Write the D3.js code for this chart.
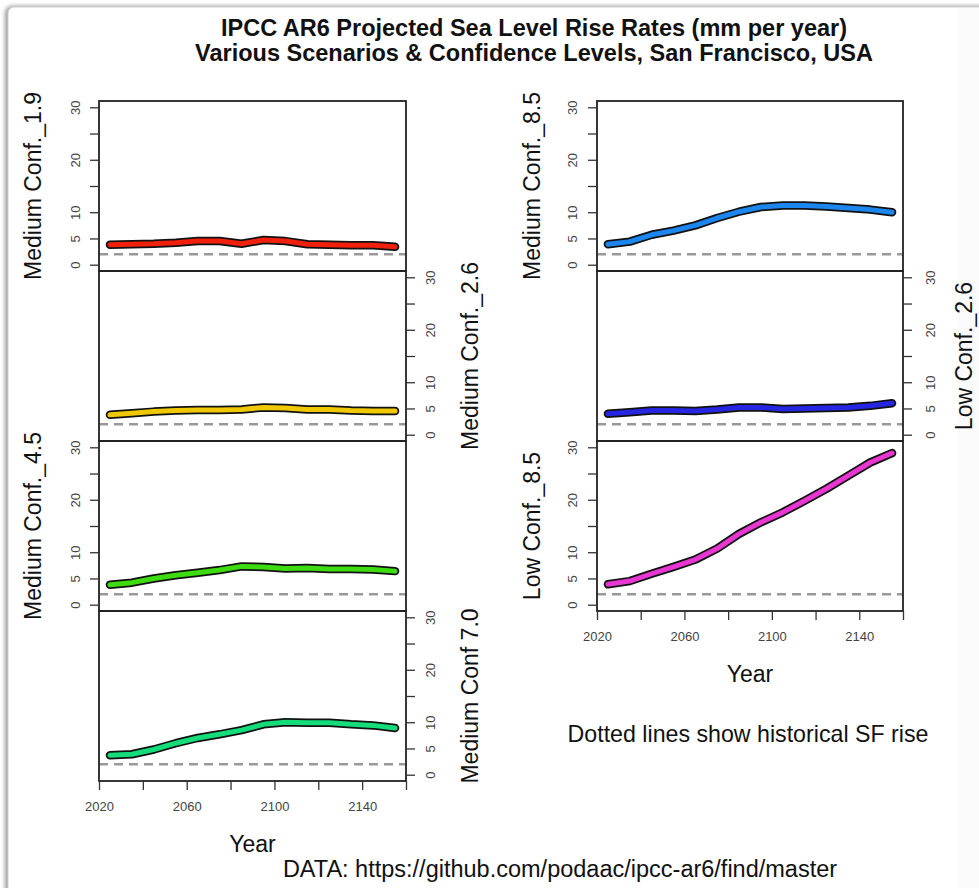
<!DOCTYPE html>
<html>
<head>
<meta charset="utf-8">
<script src="https://cdn.jsdelivr.net/npm/d3@7"></script>
<style>
  html, body { margin: 0; padding: 0; background: #fff; }
  svg { display: block; font-family: "Liberation Sans", Arial, Helvetica, sans-serif; }
</style>
</head>
<body>
<svg id="chart" width="979" height="888"></svg>
<script>
// ---- data (mm per year) ----
const years = [2025, 2035, 2045, 2055, 2065, 2075, 2085, 2095, 2105, 2115, 2125, 2135, 2145, 2155];
const medConf19 = [3.8, 3.9, 4.0, 4.2, 4.5, 4.5, 4.0, 4.7, 4.5, 3.9, 3.8, 3.7, 3.7, 3.4];
const medConf26 = [3.8, 4.1, 4.4, 4.6, 4.7, 4.7, 4.8, 5.2, 5.1, 4.8, 4.8, 4.6, 4.5, 4.5];
const medConf45 = [3.8, 4.2, 5.0, 5.6, 6.1, 6.6, 7.3, 7.2, 6.9, 7.0, 6.8, 6.8, 6.7, 6.4];
const medConf70 = [3.7, 3.9, 4.8, 6.0, 7.0, 7.7, 8.5, 9.6, 10.0, 9.9, 9.9, 9.6, 9.4, 8.9];
const medConf85 = [3.9, 4.4, 5.7, 6.5, 7.5, 8.9, 10.1, 11.0, 11.3, 11.3, 11.1, 10.8, 10.5, 10.0];
const lowConf26 = [4.0, 4.3, 4.6, 4.6, 4.5, 4.8, 5.2, 5.2, 4.9, 5.0, 5.1, 5.2, 5.5, 6.0];
const lowConf85 = [3.9, 4.5, 5.9, 7.2, 8.6, 10.7, 13.5, 15.7, 17.6, 19.8, 22.1, 24.6, 27.1, 28.9];
const historicalRise = 2.0;

const seriesLabels = ["Medium Conf._1.9", "Medium Conf._2.6", "Medium Conf._4.5", "Medium Conf 7.0",
                      "Medium Conf._8.5", "Low Conf._2.6", "Low Conf._8.5"];
const seriesColors = ["#f0200c", "#f0c800", "#3cdc10", "#14dc78", "#1c86ee", "#2626e2", "#e836d2"];

const yTicks = [0, 5, 10, 15, 20, 25, 30];
const yTickLabels = [0, 5, 10, 20, 30];
const xTicks = [2020, 2040, 2060, 2080, 2100, 2120, 2140, 2160];
const xTickLabels = [2020, 2060, 2100, 2140];

const titleLines = ["IPCC AR6 Projected Sea Level Rise Rates (mm per year)",
                    "Various Scenarios & Confidence Levels, San Francisco, USA"];
const noteText = "Dotted lines show historical SF rise";
const sourceText = "DATA: https://github.com/podaac/ipcc-ar6/find/master";

// ---- layout ----
const allSeries = [medConf19, medConf26, medConf45, medConf70, medConf85, lowConf26, lowConf85];
const panels = allSeries.map((vals, i) => ({
  values: vals,
  label: seriesLabels[i],
  color: seriesColors[i],
  col: i < 4 ? 0 : 1,
  row: i < 4 ? i : i - 4,
  side: ((i < 4 ? i : i - 4) % 2 === 0) ? "left" : "right",
  xAxis: i === 3 || i === 6
}));

const colX = [[99, 406], [597, 903]];
const rowTop = 101, rowH = 170;

const svg = d3.select("#chart");

// frame (screenshot window)
const defs = svg.append("defs");
const f = defs.append("filter").attr("id", "blur").attr("x", "-20%").attr("y", "-20%").attr("width", "140%").attr("height", "140%");
f.append("feGaussianBlur").attr("stdDeviation", 2.2);
svg.append("rect").attr("x", 5).attr("y", 6).attr("width", 1000).attr("height", 920).attr("rx", 7)
  .attr("fill", "#9a9a9a").attr("filter", "url(#blur)");
svg.append("rect").attr("x", 8).attr("y", 7).attr("width", 1000).attr("height", 920).attr("rx", 6)
  .attr("fill", "#fff").attr("stroke", "#d2d2d2").attr("stroke-width", 1);
svg.append("rect").attr("x", 958).attr("y", 8).attr("width", 21).attr("height", 880).attr("fill", "#fafafa");

// title
svg.append("g").selectAll("text").data(titleLines).join("text")
  .attr("x", 534).attr("y", (d, i) => 36 + i * 25)
  .attr("text-anchor", "middle").attr("font-weight", "bold").attr("font-size", 23.5)
  .attr("fill", "#111").text(d => d);

const y = d3.scaleLinear().domain([-1.2, 31.2]).range([rowH, 0]);

panels.forEach((p, idx) => {
  const [x0, x1] = colX[p.col];
  const x = d3.scaleLinear().domain([2020, 2160]).range([0, x1 - x0]);
  const g = svg.append("g").attr("transform", `translate(${x0},${rowTop + p.row * rowH})`);
  const w = x1 - x0;

  const clipId = "clip" + idx;
  defs.append("clipPath").attr("id", clipId).append("rect").attr("width", w).attr("height", rowH);

  // historical dashed line
  g.append("line").attr("clip-path", `url(#${clipId})`)
    .attr("x1", 0).attr("x2", w).attr("y1", y(historicalRise)).attr("y2", y(historicalRise))
    .attr("stroke", "#999").attr("stroke-width", 2.6).attr("stroke-dasharray", "9,6");

  const line = d3.line().x((d, i) => x(years[i])).y(d => y(d));
  g.append("path").datum(p.values).attr("d", line).attr("fill", "none")
    .attr("stroke", "#111").attr("stroke-width", 8.5).attr("stroke-linecap", "round").attr("stroke-linejoin", "round");
  g.append("path").datum(p.values).attr("d", line).attr("fill", "none")
    .attr("stroke", p.color).attr("stroke-width", 5).attr("stroke-linecap", "round").attr("stroke-linejoin", "round");

  // box
  g.append("rect").attr("width", w).attr("height", rowH).attr("fill", "none")
    .attr("stroke", "#222").attr("stroke-width", 1.8);

  // y axis
  const isLeft = p.side === "left";
  const yAxis = (isLeft ? d3.axisLeft(y) : d3.axisRight(y))
    .tickValues(yTicks).tickSize(9).tickSizeOuter(0)
    .tickFormat(d => yTickLabels.includes(d) ? d : "");
  const ag = g.append("g").attr("transform", isLeft ? "translate(0,0)" : `translate(${w},0)`).call(yAxis);
  ag.select(".domain").remove();
  ag.selectAll(".tick line").attr("stroke", "#333").attr("stroke-width", 1.3);
  const off = p.col === 0 ? (isLeft ? -24 : 24) : (isLeft ? -25 : 27);
  ag.selectAll(".tick text")
    .attr("transform", "rotate(-90)")
    .attr("x", 0).attr("y", off).attr("dy", null)
    .attr("dominant-baseline", "central")
    .attr("text-anchor", "middle")
    .attr("font-size", 13).attr("fill", "#444")
    .attr("font-family", "'Liberation Sans', Arial, sans-serif");

  // y label
  const lx = p.col === 0 ? (isLeft ? -66 : 64) : (isLeft ? -65 : 61);
  g.append("text").attr("transform", `translate(${isLeft ? lx : w + lx},${rowH / 2}) rotate(-90)`)
    .attr("text-anchor", "middle").attr("dominant-baseline", "central")
    .attr("font-size", 23).attr("fill", "#111").text(p.label);

  // x axis
  if (p.xAxis) {
    const xAxis = d3.axisBottom(x).tickValues(xTicks).tickSize(9).tickSizeOuter(0).tickPadding(12)
      .tickFormat(d => xTickLabels.includes(d) ? d : "");
    const xg = g.append("g").attr("transform", `translate(0,${rowH})`).call(xAxis);
    xg.select(".domain").remove();
    xg.selectAll(".tick line").attr("stroke", "#333").attr("stroke-width", 1.3);
    xg.selectAll(".tick text").attr("font-size", 13).attr("fill", "#444")
      .attr("font-family", "'Liberation Sans', Arial, sans-serif");
    g.append("text").attr("x", w / 2).attr("y", rowH + 71)
      .attr("text-anchor", "middle").attr("font-size", 23).attr("fill", "#111").text("Year");
  }
});

svg.append("text").attr("x", 748).attr("y", 742).attr("text-anchor", "middle")
  .attr("font-size", 23.2).attr("fill", "#111").text(noteText);
svg.append("text").attr("x", 560).attr("y", 877).attr("text-anchor", "middle")
  .attr("font-size", 23.5).attr("fill", "#111").text(sourceText);
</script>
</body>
</html>
